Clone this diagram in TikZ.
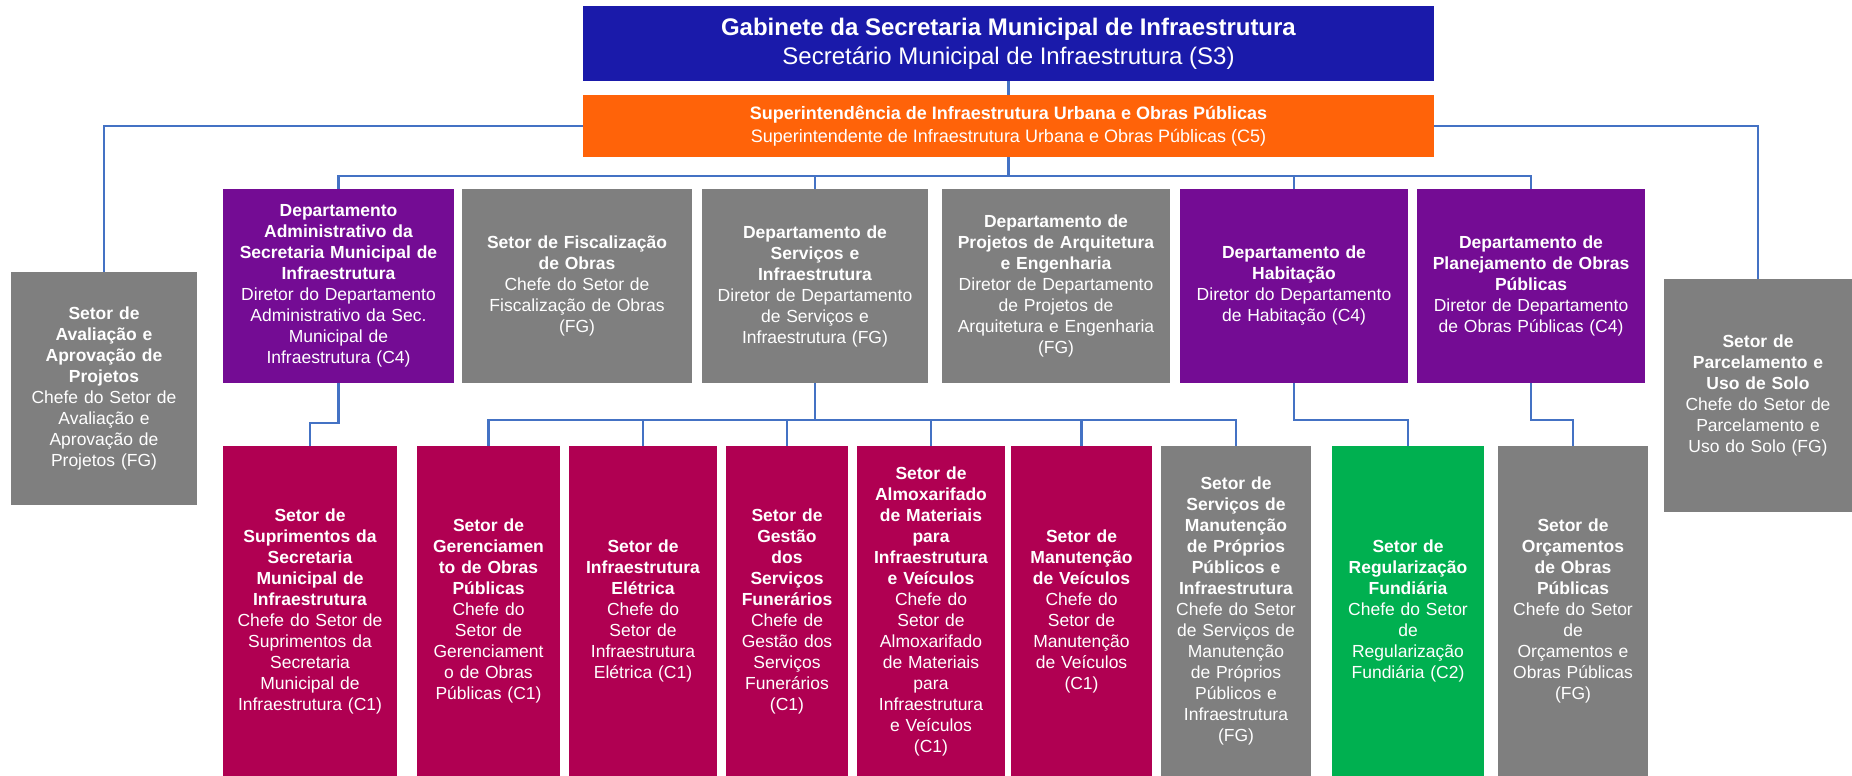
\documentclass[tikz,border=0pt]{standalone}
\usepackage{fontspec}
\setmainfont{Liberation Sans}
\usepackage{tikz}

\definecolor{azulgab}{RGB}{26,26,170}
\definecolor{laranja}{RGB}{255,99,9}
\definecolor{roxo}{RGB}{116,12,148}
\definecolor{cinza}{RGB}{127,127,127}
\definecolor{vinho}{RGB}{176,0,82}
\definecolor{verde}{RGB}{0,176,80}
\definecolor{conector}{RGB}{68,114,196}

\begin{document}
\begin{tikzpicture}[x=1pt, y=1pt,
    caixa/.style={fill=#1, text=white, inner sep=0pt, align=center,
      font=\fontsize{17.5}{21}\selectfont},
    topo/.style={minimum height=194},
    base/.style={minimum height=330},
    linha/.style={draw=conector, line width=2.5pt}]

	\useasboundingbox (0,0) rectangle (1852,776);

	% Gabinete e Superintendencia
	\node[caixa=azulgab, minimum width=851, minimum height=75, font=\fontsize{24}{29}\selectfont] (gab) at (1008.5,732.5)
		{\textbf{Gabinete da Secretaria Municipal de Infraestrutura}\\Secretário Municipal de Infraestrutura (S3)};
	\node[caixa=laranja, minimum width=851, minimum height=62, font=\fontsize{18}{23}\selectfont] (sup) at (1008.5,650)
		{\textbf{Superintendência de Infraestrutura Urbana e Obras Públicas}\\Superintendente de Infraestrutura Urbana e Obras Públicas (C5)};

	% Setores laterais
	\node[caixa=cinza, minimum width=186, minimum height=233, text width=182] (aval) at (104,387.5)
		{{\bfseries Setor de\\Avaliação e\\Aprovação de\\Projetos}\\Chefe do Setor de\\Avaliação e\\Aprovação de\\Projetos (FG)};
	\node[caixa=cinza, minimum width=188, minimum height=233, text width=184] (parc) at (1758,380.5)
		{{\bfseries Setor de\\Parcelamento e\\Uso de Solo}\\Chefe do Setor de\\Parcelamento e\\Uso do Solo (FG)};

	% Departamentos
	\node[caixa=roxo, topo, minimum width=231, text width=227] (admin) at (338.5,490)
		{{\bfseries Departamento\\Administrativo da\\Secretaria Municipal de\\Infraestrutura}\\Diretor do Departamento\\Administrativo da Sec.\\Municipal de\\Infraestrutura (C4)};
	\node[caixa=cinza, topo, minimum width=230, text width=226] (fisc) at (577,490)
		{{\bfseries Setor de Fiscalização\\de Obras}\\Chefe do Setor de\\Fiscalização de Obras\\(FG)};
	\node[caixa=cinza, topo, minimum width=226, text width=222] (serv) at (815,490)
		{{\bfseries Departamento de\\Serviços e\\Infraestrutura}\\Diretor de Departamento\\de Serviços e\\Infraestrutura (FG)};
	\node[caixa=cinza, topo, minimum width=228, text width=224] (proj) at (1056,490)
		{{\bfseries Departamento de\\Projetos de Arquitetura\\e Engenharia}\\Diretor de Departamento\\de Projetos de\\Arquitetura e Engenharia\\(FG)};
	\node[caixa=roxo, topo, minimum width=228, text width=224] (habit) at (1294,490)
		{{\bfseries Departamento de\\Habitação}\\Diretor do Departamento\\de Habitação (C4)};
	\node[caixa=roxo, topo, minimum width=228, text width=224] (plan) at (1531,490)
		{{\bfseries Departamento de\\Planejamento de Obras\\Públicas}\\Diretor de Departamento\\de Obras Públicas (C4)};

	% Setores
	\node[caixa=vinho, base, minimum width=174, text width=170] (supr) at (310,165)
		{{\bfseries Setor de\\Suprimentos da\\Secretaria\\Municipal de\\Infraestrutura}\\Chefe do Setor de\\Suprimentos da\\Secretaria\\Municipal de\\Infraestrutura (C1)};
	\node[caixa=vinho, base, minimum width=143, text width=139] (ger) at (488.5,165)
		{{\bfseries Setor de\\Gerenciamen\\to de Obras\\Públicas}\\Chefe do\\Setor de\\Gerenciament\\o de Obras\\Públicas (C1)};
	\node[caixa=vinho, base, minimum width=148, text width=144] (ele) at (643,165)
		{{\bfseries Setor de\\Infraestrutura\\Elétrica}\\Chefe do\\Setor de\\Infraestrutura\\Elétrica (C1)};
	\node[caixa=vinho, base, minimum width=122, text width=118] (fun) at (787,165)
		{{\bfseries Setor de\\Gestão\\dos\\Serviços\\Funerários}\\Chefe de\\Gestão dos\\Serviços\\Funerários\\(C1)};
	\node[caixa=vinho, base, minimum width=148, text width=144] (alm) at (931,165)
		{{\bfseries Setor de\\Almoxarifado\\de Materiais\\para\\Infraestrutura\\e Veículos}\\Chefe do\\Setor de\\Almoxarifado\\de Materiais\\para\\Infraestrutura\\e Veículos\\(C1)};
	\node[caixa=vinho, base, minimum width=141, text width=137] (vei) at (1081.5,165)
		{{\bfseries Setor de\\Manutenção\\de Veículos}\\Chefe do\\Setor de\\Manutenção\\de Veículos\\(C1)};
	\node[caixa=cinza, base, minimum width=150, text width=146] (prop) at (1236,165)
		{{\bfseries Setor de\\Serviços de\\Manutenção\\de Próprios\\Públicos e\\Infraestrutura}\\Chefe do Setor\\de Serviços de\\Manutenção\\de Próprios\\Públicos e\\Infraestrutura\\(FG)};
	\node[caixa=verde, base, minimum width=152, text width=148] (reg) at (1408,165)
		{{\bfseries Setor de\\Regularização\\Fundiária}\\Chefe do Setor\\de\\Regularização\\Fundiária (C2)};
	\node[caixa=cinza, base, minimum width=150, text width=146] (orc) at (1573,165)
		{{\bfseries Setor de\\Orçamentos\\de Obras\\Públicas}\\Chefe do Setor\\de\\Orçamentos e\\Obras Públicas\\(FG)};

	% Ligacoes
	\draw[linha] (gab) -- (sup);
	\draw[linha] (sup.west) -| (aval.north);
	\draw[linha] (sup.east) -| (parc.north);
	\draw[linha] (sup.south) -- ++(0,-19) coordinate (bsup);
	\foreach \d in {admin,serv,habit,plan}
		\draw[linha] (bsup) -| (\d.north);

	\draw[linha] (admin.south) -- ++(0,-40) -| (supr.north);
	\draw[linha] (serv.south) -- ++(0,-37) coordinate (bserv);
	\foreach \s in {ger,ele,fun,alm,vei,prop}
		\draw[linha] (bserv) -| (\s.north);
	\draw[linha] (habit.south) -- ++(0,-37) -| (reg.north);
	\draw[linha] (plan.south) -- ++(0,-37) -| (orc.north);
\end{tikzpicture}
\end{document}
